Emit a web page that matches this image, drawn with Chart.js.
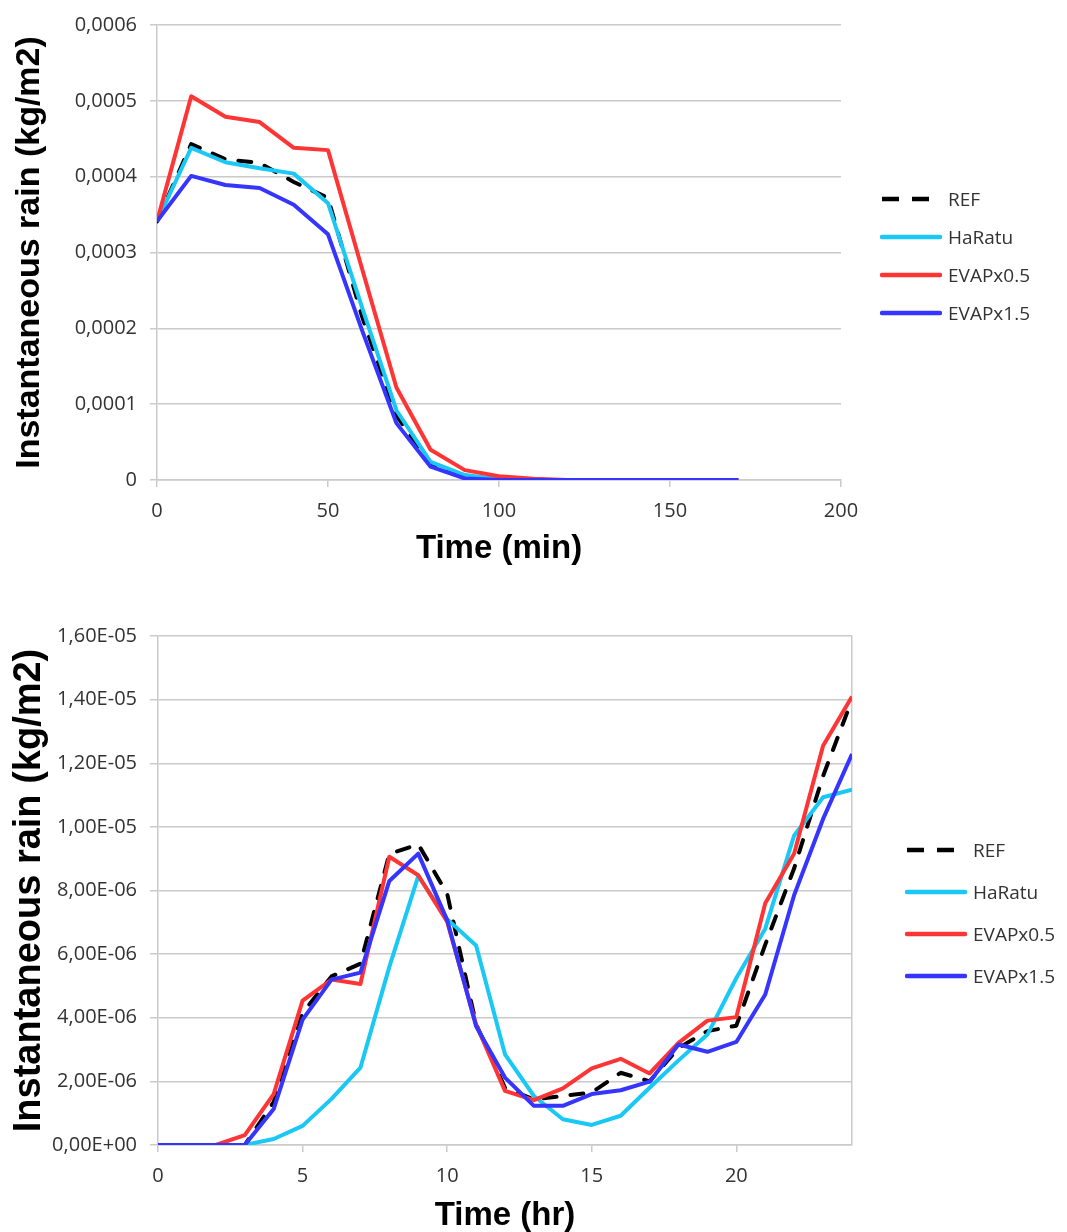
<!DOCTYPE html>
<html>
<head>
<meta charset="utf-8">
<script src="https://cdn.jsdelivr.net/npm/chart.js@4.4.1/dist/chart.umd.min.js"></script>
<style>
  body { margin: 0; background: #fff; width: 1067px; height: 1232px; position: relative; overflow: hidden; }
  .box { position: absolute; left: 0; }
  .legend { position: absolute; font-family: "Open Sans", sans-serif; font-size: 19px; color: #333; }
  .legend .item { position: absolute; left: 0; height: 24px; display: flex; align-items: center; white-space: nowrap; }
  .legend svg { display: block; margin-right: 6px; }
</style>
</head>
<body>
<div class="box" style="top:0"><canvas id="chartMin" width="1067" height="588"></canvas></div>
<div class="box" style="top:600px"><canvas id="chartHr" width="1067" height="632"></canvas></div>
<div class="legend" id="legendMin" style="left:880px; top:187px"></div>
<div class="legend" id="legendHr" style="left:905px; top:838px"></div>
<script>
// ---- data: first hours of the run (minutes) ----
var timeMin = [0, 10, 20, 30, 40, 50, 60, 70, 80, 90, 100, 110, 120, 130, 140, 150, 160, 170];
var refMin = [0.000341, 0.000443, 0.000423, 0.000418, 0.000393, 0.000372, 0.000215, 0.000085, 0.000020, 0.000004, 0.000001, 0, 0, 0, 0, 0, 0, 0];
var haratuMin = [0.000341, 0.000438, 0.000419, 0.000411, 0.000404, 0.000365, 0.000227, 0.000092, 0.000024, 0.0000065, 0.000001, 0, 0, 0, 0, 0, 0, 0];
var evap05Min = [0.000341, 0.000506, 0.000479, 0.000472, 0.000438, 0.000435, 0.000278, 0.000122, 0.000040, 0.000013, 0.000005, 0.0000015, 0, 0, 0, 0, 0, 0];
var evap15Min = [0.000341, 0.000401, 0.000389, 0.000385, 0.000363, 0.000324, 0.000197, 0.000075, 0.0000175, 0.000002, 0, 0, 0, 0, 0, 0, 0, 0];

// ---- data: whole day (hours) ----
var timeHr = [0, 1, 2, 3, 4, 5, 6, 7, 8, 9, 10, 11, 12, 13, 14, 15, 16, 17, 18, 19, 20, 21, 22, 23, 24];
var refHr = [0, 0, 0, 0, 1.35e-6, 4.15e-6, 5.3e-6, 5.7e-6, 9.15e-6, 9.45e-6, 7.9e-6, 3.8e-6, 1.8e-6, 1.43e-6, 1.54e-6, 1.65e-6, 2.27e-6, 2.0e-6, 3.05e-6, 3.58e-6, 3.75e-6, 6.3e-6, 8.7e-6, 1.16e-5, 1.40e-5];
var haratuHr = [0, 0, 0, 0, 1.9e-7, 6.0e-7, 1.45e-6, 2.43e-6, 5.6e-6, 8.45e-6, 7.1e-6, 6.27e-6, 2.85e-6, 1.54e-6, 8.1e-7, 6.3e-7, 9.2e-7, 1.8e-6, 2.66e-6, 3.47e-6, 5.25e-6, 6.8e-6, 9.73e-6, 1.093e-5, 1.117e-5];
var evap05Hr = [0, 0, 0, 3.1e-7, 1.6e-6, 4.54e-6, 5.2e-6, 5.06e-6, 9.06e-6, 8.48e-6, 7.02e-6, 3.79e-6, 1.70e-6, 1.41e-6, 1.78e-6, 2.41e-6, 2.71e-6, 2.25e-6, 3.21e-6, 3.91e-6, 4.02e-6, 7.6e-6, 9.16e-6, 1.255e-5, 1.41e-5];
var evap15Hr = [0, 0, 0, 0, 1.13e-6, 3.94e-6, 5.2e-6, 5.42e-6, 8.3e-6, 9.16e-6, 7.07e-6, 3.73e-6, 2.12e-6, 1.23e-6, 1.23e-6, 1.6e-6, 1.72e-6, 1.99e-6, 3.16e-6, 2.93e-6, 3.24e-6, 4.73e-6, 7.86e-6, 1.025e-5, 1.229e-5];
var hourTicks = [0, 5, 10, 15, 20, 24];

var seriesNames = ["REF", "HaRatu", "EVAPx0.5", "EVAPx1.5"];
var seriesColors = ["#000000", "#19c8f5", "#ff3535", "#3535ff"];
var gridColor = "#cacaca";
var tickFont = { family: "'Open Sans', sans-serif", size: 20 };
var sansBold = "'Liberation Sans', Arial, sans-serif";

function toPoints(xs, ys) {
    var pts = [];
    for (let i = 0; i < xs.length; i++) {
        pts.push({ x: xs[i], y: ys[i] });
    }
    return pts;
}

function makeDatasets(xs, lists) {
    return lists.map(function (ys, i) {
        return {
            label: seriesNames[i],
            data: toPoints(xs, ys),
            borderColor: seriesColors[i],
            backgroundColor: seriesColors[i],
            borderWidth: 4,
            borderDash: i === 0 ? [13, 14] : [],
            borderCapStyle: i === 0 ? 'round' : 'butt',
            borderJoinStyle: 'round',
            pointRadius: 0,
            tension: 0,
            order: lists.length - i
        };
    });
}

function commaDec(v) {
    if (v === 0) return "0";
    return v.toFixed(4).replace(".", ",");
}

function sciLabel(v) {
    var s = Math.abs(v) < 1e-12 ? (0).toExponential(2) : v.toExponential(2);
    var parts = s.split("e");
    var exp = parseInt(parts[1], 10);
    var sign = exp < 0 ? "-" : "+";
    var e = Math.abs(exp);
    return parts[0].replace(".", ",") + "E" + sign + (e < 10 ? "0" + e : e);
}

function buildLegend(el, step) {
    seriesNames.forEach(function (name, i) {
        var item = document.createElement("div");
        item.className = "item";
        item.style.top = (i * step) + "px";
        var dash = i === 0 ? ' stroke-dasharray="17 13"' : '';
        var cap = i === 0 ? 'butt' : 'round';
        item.innerHTML = '<svg width="62" height="24"><line x1="2" y1="12" x2="60" y2="12" stroke="' +
            seriesColors[i] + '" stroke-width="4.5" stroke-linecap="' + cap + '"' + dash + '/></svg><span>' + name + '</span>';
        el.appendChild(item);
    });
}

// top chart: minutes
var ctxMin = document.getElementById("chartMin");
new Chart(ctxMin, {
    type: 'line',
    data: { datasets: makeDatasets(timeMin, [refMin, haratuMin, evap05Min, evap15Min]) },
    options: {
        responsive: false,
        animation: false,
        layout: { padding: { top: 22, right: 226, left: 0, bottom: 0 } },
        plugins: { legend: { display: false }, tooltip: { enabled: false } },
        scales: {
            x: {
                type: 'linear',
                min: 0,
                max: 200,
                ticks: { stepSize: 50, color: "#333", font: tickFont, padding: 12, maxRotation: 0 },
                grid: { drawOnChartArea: false, color: gridColor, tickLength: 7, lineWidth: 1.5 },
                border: { color: gridColor, width: 1.5 },
                title: { display: true, text: "Time (min)", color: "#000", font: { family: sansBold, size: 33, weight: "bold", lineHeight: 1 }, padding: { top: 0, bottom: 23 } },
                afterFit: function (s) { s.height = 108; }
            },
            y: {
                min: 0,
                max: 0.0006,
                ticks: { stepSize: 0.0001, color: "#333", font: tickFont, padding: 13, callback: commaDec },
                grid: { color: gridColor, tickLength: 7, lineWidth: 1.5 },
                border: { color: gridColor, width: 1.5 },
                title: { display: true, text: "Instantaneous rain (kg/m2)", color: "#000", font: { family: sansBold, size: 34, weight: "bold", lineHeight: 1 }, padding: { top: 13, bottom: 0 } },
                afterFit: function (s) { s.width = 157; }
            }
        }
    }
});

// bottom chart: hours
var ctxHr = document.getElementById("chartHr");
new Chart(ctxHr, {
    type: 'line',
    data: { datasets: makeDatasets(timeHr, [refHr, haratuHr, evap05Hr, evap15Hr]) },
    options: {
        responsive: false,
        animation: false,
        layout: { padding: { top: 36, right: 215, left: 0, bottom: 0 } },
        plugins: { legend: { display: false }, tooltip: { enabled: false } },
        scales: {
            x: {
                type: 'linear',
                min: 0,
                max: 24,
                afterBuildTicks: function (s) { s.ticks = hourTicks.map(function (v) { return { value: v }; }); },
                ticks: {
                    color: "#333", font: tickFont, padding: 12, maxRotation: 0, autoSkip: false,
                    callback: function (v) { return v % 5 === 0 ? v : ""; }
                },
                grid: {
                    drawOnChartArea: true,
                    color: function (c) { return c.tick && c.tick.value === 24 ? gridColor : "rgba(0,0,0,0)"; },
                    tickColor: function (c) { return c.tick && c.tick.value === 24 ? "rgba(0,0,0,0)" : gridColor; },
                    tickLength: 7,
                    lineWidth: 1.5
                },
                border: { color: gridColor, width: 1.5 },
                title: { display: true, text: "Time (hr)", color: "#000", font: { family: sansBold, size: 33, weight: "bold", lineHeight: 1 }, padding: { top: 0, bottom: 0 } },
                afterFit: function (s) { s.height = 87; }
            },
            y: {
                min: 0,
                max: 1.6e-5,
                ticks: { stepSize: 2e-6, color: "#333", font: tickFont, padding: 13, callback: sciLabel },
                grid: { color: gridColor, tickLength: 8, lineWidth: 1.5 },
                border: { color: gridColor, width: 1.5 },
                title: { display: true, text: "Instantaneous rain (kg/m2)", color: "#000", font: { family: sansBold, size: 38, weight: "bold", lineHeight: 1 }, padding: { top: 11, bottom: 0 } },
                afterFit: function (s) { s.width = 158; }
            }
        }
    }
});

buildLegend(document.getElementById("legendMin"), 38);
buildLegend(document.getElementById("legendHr"), 42);
</script>
</body>
</html>
